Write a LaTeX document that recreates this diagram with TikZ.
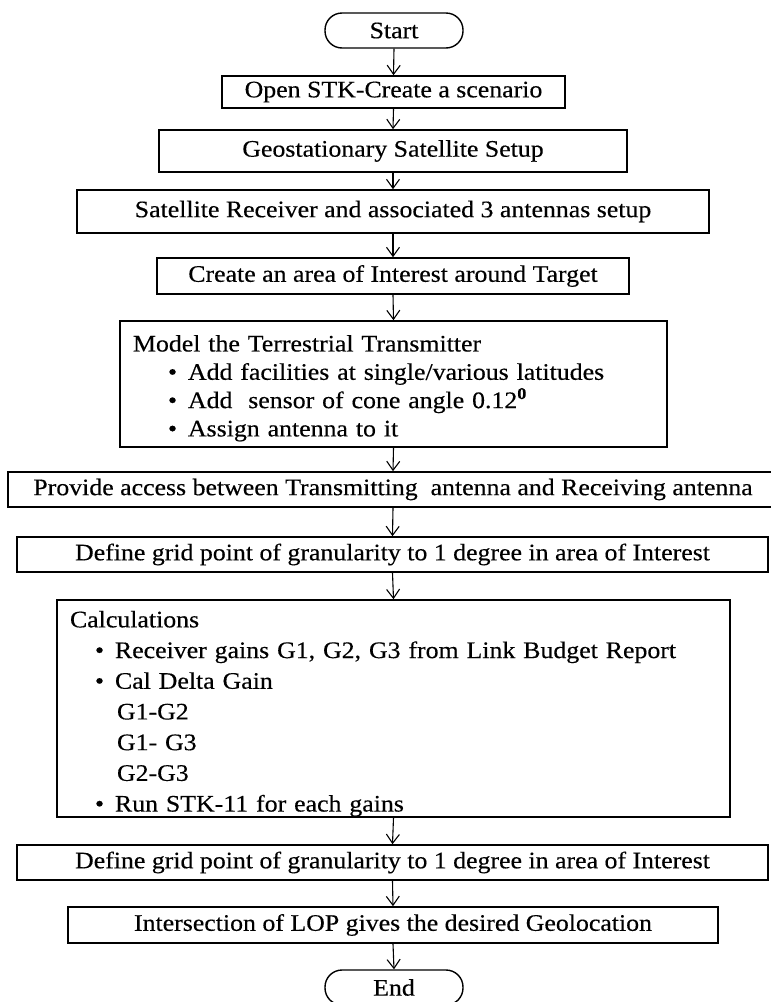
\documentclass[tikz,border=0pt]{standalone}
\usepackage{fontspec}
\setmainfont{Liberation Serif}[FakeStretch=1.09,FakeBold=0.35]
\usetikzlibrary{arrows.meta}
\begin{document}
\begin{tikzpicture}[x=1pt,y=-1pt,
  txt/.style={font=\fontsize{23.7}{28}\selectfont},
  box/.style={txt, draw, line width=1.6pt, rectangle, inner sep=0pt, align=center},
  listbox/.style={txt, draw, line width=1.6pt, rectangle, inner xsep=13pt, inner ysep=0pt, align=left},
  term/.style={txt, draw, line width=1.4pt, rectangle, rounded corners=17pt, inner sep=0pt, minimum width=138pt, minimum height=35pt},
  arr/.style={-{Straight Barb[length=9pt,width=13pt,line width=1.1pt]}, line width=1.1pt}]
\useasboundingbox (0,0) rectangle (771,1002);

\node[term] (start) at (394,30.5) {Start};
\node[box, minimum width=343pt, minimum height=32pt] (open) at (393.5,92) {Open STK-Create a scenario};
\node[box, minimum width=468pt, minimum height=42pt] (geo) at (393,151) {Geostationary Satellite Setup};
\node[box, minimum width=632pt, minimum height=43pt] (satrx) at (393,211.5) {Satellite Receiver and associated 3 antennas setup};
\node[box, minimum width=472pt, minimum height=36pt] (area) at (393,276) {Create an area of Interest around Target};
\node[listbox, text width=521pt, minimum height=126pt,
      font=\fontsize{23.7}{28.3}\selectfont] (model) at (393.5,384) {\rule{0pt}{25pt}Model the Terrestrial Transmitter\\
\hspace*{35pt}\makebox[20pt][l]{•}Add facilities at single/various latitudes\\
\hspace*{35pt}\makebox[20pt][l]{•}Add\ \ sensor of cone angle 0.12\textsuperscript{\textbf{0}}\\
\hspace*{35pt}\makebox[20pt][l]{•}Assign antenna to it};
\node[box, minimum width=770pt, minimum height=35pt] (access) at (393,489.5) {Provide access between Transmitting\ \ antenna and Receiving antenna};
\node[box, minimum width=751pt, minimum height=35pt] (grid1) at (392.5,554.5) {Define grid point of granularity to 1 degree in area of Interest};
\node[listbox, text width=647pt, minimum height=217pt,
      font=\fontsize{23.7}{30.7}\selectfont] (calc) at (393.5,708.5) {\rule{0pt}{27pt}Calculations\\
\hspace*{25pt}\makebox[20pt][l]{•}Receiver\ gains G1, G2, G3 from Link Budget Report\\
\hspace*{25pt}\makebox[20pt][l]{•}Cal Delta Gain\\
\hspace*{47pt}G1-G2\\
\hspace*{47pt}G1- G3\\
\hspace*{47pt}G2-G3\\
\hspace*{25pt}\makebox[20pt][l]{•}Run STK-11 for each gains};
\node[box, minimum width=751pt, minimum height=35pt] (grid2) at (392.5,862.5) {Define grid point of granularity to 1 degree in area of Interest};
\node[box, minimum width=650pt, minimum height=36pt] (inter) at (393,925) {Intersection of LOP gives the desired Geolocation};
\node[term] (end) at (394,987.5) {End};

\draw[arr] (start.south) -- (open.north);
\draw[arr] (open.south) -- (geo.north);
\draw[arr] (geo.south) -- (satrx.north);
\draw[arr] (satrx.south) -- (area.north);
\draw[arr] (area.south) -- (model.north);
\draw[arr] (model.south) -- (access.north);
\draw[arr] (access.south) -- (grid1.north);
\draw[arr] (grid1.south) -- (calc.north);
\draw[arr] (calc.south) -- (grid2.north);
\draw[arr] (grid2.south) -- (inter.north);
\draw[arr] (inter.south) -- (end.north);
\end{tikzpicture}
\end{document}
